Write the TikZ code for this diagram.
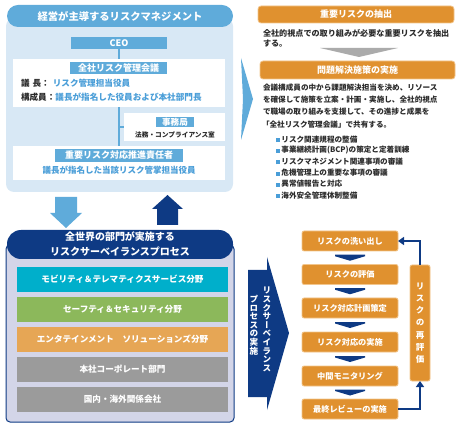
\documentclass[tikz,border=0pt]{standalone}
\usepackage{fontspec}
\setmainfont{Noto Sans CJK JP}
\newfontfamily\vfont[RawFeature=+vert]{Noto Sans CJK JP}
\usetikzlibrary{arrows.meta,calc}
\definecolor{ltblue}{HTML}{5FABDA}
\definecolor{panelbg}{HTML}{D8E8F5}
\definecolor{txtblue}{HTML}{4A9ED8}
\definecolor{dkblue}{HTML}{0E3A84}
\definecolor{lav}{HTML}{D3D5E8}
\definecolor{orng}{HTML}{E0912F}
\definecolor{orngedge}{HTML}{F2C58C}
\definecolor{cyanb}{HTML}{00AFCB}
\definecolor{greenb}{HTML}{8CB85B}
\definecolor{orangeb}{HTML}{E6A655}
\definecolor{grayb}{HTML}{9B9B9B}
\definecolor{graytri}{HTML}{ABABAB}
\definecolor{dktext}{HTML}{2B2B2B}
\newcommand\myfs[2]{\fontsize{#1}{#2}\selectfont}
\newcommand\bsq{\textcolor{txtblue}{\rule{4.2pt}{4.2pt}}\hspace{1.2pt}}
\begin{document}
\begin{tikzpicture}[x=1pt,y=-1pt,
  every node/.style={inner sep=0pt, outer sep=0pt},
  lbl/.style={fill=ltblue, text=white, font=\bfseries\myfs{9}{9}},
  whitebox/.style={fill=white},
  band/.style={minimum width=211, minimum height=25, text=white, font=\bfseries\myfs{8.6}{8.6}},
  ohead/.style={fill=orng, draw=orngedge, line width=0.8pt, rounded corners=3, text=white, font=\bfseries\myfs{9}{9}},
  pbox/.style={fill=orng, draw=orngedge, line width=0.8pt, rounded corners=2, minimum width=96, minimum height=20, text=white, font=\bfseries\myfs{8.2}{8.2}},
  body/.style={text=dktext, font=\bfseries\myfs{7.6}{7.6}, anchor=west},
  conn/.style={draw=dkblue, line width=2.2pt, -{Triangle[width=8pt,length=6pt]}},
  vline/.style={draw=ltblue, line width=2pt}
]
\useasboundingbox (0,0) rectangle (460,427);

% ---------- top-left panel ----------
\fill[panelbg, rounded corners=8] (6,18) rectangle (233,192);
\node[fill=ltblue, rounded corners=11, minimum width=226, minimum height=22, text=white, font=\bfseries\myfs{10.3}{10.3}] (title) at (120,16) {経営が主導するリスクマネジメント};

\node[lbl, minimum width=96, minimum height=12] (ceo) at (119,43) {CEO};
\node[whitebox, minimum width=212, minimum height=34] (b3) at (119,163) {};
\draw[vline] (ceo.south) -- (b3.north);
\node[whitebox, minimum width=212, minimum height=48] (b1) at (119,83) {};
\node[whitebox, minimum width=101, minimum height=28] (b2) at (174.5,127) {};
\draw[vline] (ceo.south |- b2.west) -- (b2.west);

\node[lbl, minimum width=97, minimum height=12] (l1) at (118.5,68) {全社リスク管理会議};
\node[anchor=west, text=dktext, font=\bfseries\myfs{8.6}{8.6}] (r1) at (21,83) {議\hspace{3pt}長：\hspace{3pt}\textcolor{txtblue}{リスク管理担当役員}};
\node[anchor=west, text=dktext, font=\bfseries\myfs{8.6}{8.6}] (r2) at (21,97) {構成員：\textcolor{txtblue}{議長が指名した役員および本社部門長}};

\node[lbl, minimum width=38, minimum height=10, font=\bfseries\myfs{8.6}{8.6}] (l2) at (175,122.5) {事務局};
\node[text=dktext, font=\bfseries\myfs{6.7}{6.7}] (r3) at (175,135) {法務・コンプライアンス室};

\node[lbl, minimum width=128, minimum height=13] (l3) at (119,155.5) {重要リスク対応推進責任者};
\node[text=txtblue, font=\bfseries\myfs{8.5}{8.5}] (r4) at (119,170) {議長が指名した当該リスク管掌担当役員};

% ---------- arrows between panels ----------
\fill[ltblue] (55,197) -- (77,197) -- (77,213) -- (82,213) -- (66,228) -- (50,213) -- (55,213) -- cycle;
\fill[dkblue] (157,225) -- (178,225) -- (178,209) -- (183,209) -- (167.5,195) -- (152,209) -- (157,209) -- cycle;

% ---------- bottom-left panel ----------
\filldraw[fill=lav, draw=dkblue, line width=1pt, rounded corners=4] (6,245) rectangle (234,422);
\node[fill=dkblue, rounded corners=14, minimum width=226, minimum height=29, text=white, align=center, font=\bfseries\myfs{10}{15}] (h2l) at (120,244.5) {全世界の部門が実施する\\リスクサーベイランスプロセス};
\node[band, fill=cyanb] (s1) at (122.5,279.5) {モビリティ＆テレマティクスサービス分野};
\node[band, fill=greenb] (s2) at (122.5,309.5) {セーフティ＆セキュリティ分野};
\node[band, fill=orangeb] (s3) at (122.5,339.5) {エンタテインメント　ソリューションズ分野};
\node[band, fill=grayb] (s4) at (122.5,369.5) {本社コーポレート部門};
\node[band, fill=grayb] (s5) at (122.5,399.5) {国内・海外関係会社};

% ---------- big light-blue chevron ----------
\fill[ltblue] (241,58) -- (253,99) -- (241,140) -- (243,99) -- cycle;

% ---------- right top ----------
\node[ohead, minimum width=196, minimum height=17] (o1) at (356,14.5) {重要リスクの抽出};
\node[body, font=\bfseries\myfs{8.1}{8.1}] (t1a) at (263,33.3) {全社的視点での取り組みが必要な重要リスクを抽出};
\node[body, font=\bfseries\myfs{8.1}{8.1}] (t1b) at (263,43.5) {する。};
\fill[graytri] (320,48) -- (398,48) -- (359,57) -- cycle;
\node[ohead, minimum width=195, minimum height=18] (o2) at (357.5,70) {問題解決施策の実施};
\node[body] (t2a) at (263,87.3) {会議構成員の中から課題解決担当を決め、リソース};
\node[body] (t2b) at (263,99.6) {を確保して施策を立案・計画・実施し、全社的視点};
\node[body] (t2c) at (263,111.9) {で職場の取り組みを支援して、その進捗と成果を};
\node[body] (t2d) at (262,124.2) {「全社リスク管理会議」で共有する。};
\node[body] (u1) at (276,139.2) {\bsq リスク関連規程の整備};
\node[body] (u2) at (276,150.4) {\bsq 事業継続計画(BCP)の策定と定着訓練};
\node[body] (u3) at (276,161.6) {\bsq リスクマネジメント関連事項の審議};
\node[body] (u4) at (276,172.8) {\bsq 危機管理上の重要な事項の審議};
\node[body] (u5) at (276,184) {\bsq 異常値報告と対応};
\node[body] (u6) at (276,195.2) {\bsq 海外安全管理体制整備};

% ---------- right bottom ----------
\fill[dkblue] (248,270) -- (267,270) -- (267,257) -- (289,333) -- (267,410) -- (267,397) -- (248,397) -- cycle;
\node[text=white, align=center, font=\vfont\bfseries\myfs{8.6}{8.6}] (v1) at (267,329.5) {リ\\ス\\ク\\サ\\ー\\ベ\\イ\\ラ\\ン\\ス};
\node[text=white, align=center, font=\vfont\bfseries\myfs{8.6}{8.6}] (v2) at (254,325) {プ\\ロ\\セ\\ス\\の\\実\\施};

\node[pbox] (p1) at (350,241) {リスクの洗い出し};
\node[pbox] (p2) at (350,274.5) {リスクの評価};
\node[pbox] (p3) at (350,308) {リスク対応計画策定};
\node[pbox] (p4) at (350,342) {リスク対応の実施};
\node[pbox] (p5) at (350,376) {中間モニタリング};
\node[pbox] (p6) at (350,409) {最終レビューの実施};
\foreach \a/\b in {p1/p2,p2/p3,p3/p4,p4/p5,p5/p6}
  \fill[dkblue] ($(\a.south)!0.5!(\b.north)$) ++(-15,-3) -- ++(30,0) -- ++(0,1.5) -- ++(-15,4.5) -- ++(-15,-4.5) -- cycle;

\node[fill=orng, draw=orngedge, line width=0.8pt, rounded corners=2, minimum width=20, minimum height=116, text=white, align=center, font=\vfont\bfseries\myfs{8.5}{12.2}] (re) at (420,323) {リ\\ス\\ク\\の\\再\\評\\価};
\draw[conn] (p6.east) -| (re.south);
\draw[conn] (re.north) |- (p1.east);
\end{tikzpicture}
\end{document}
